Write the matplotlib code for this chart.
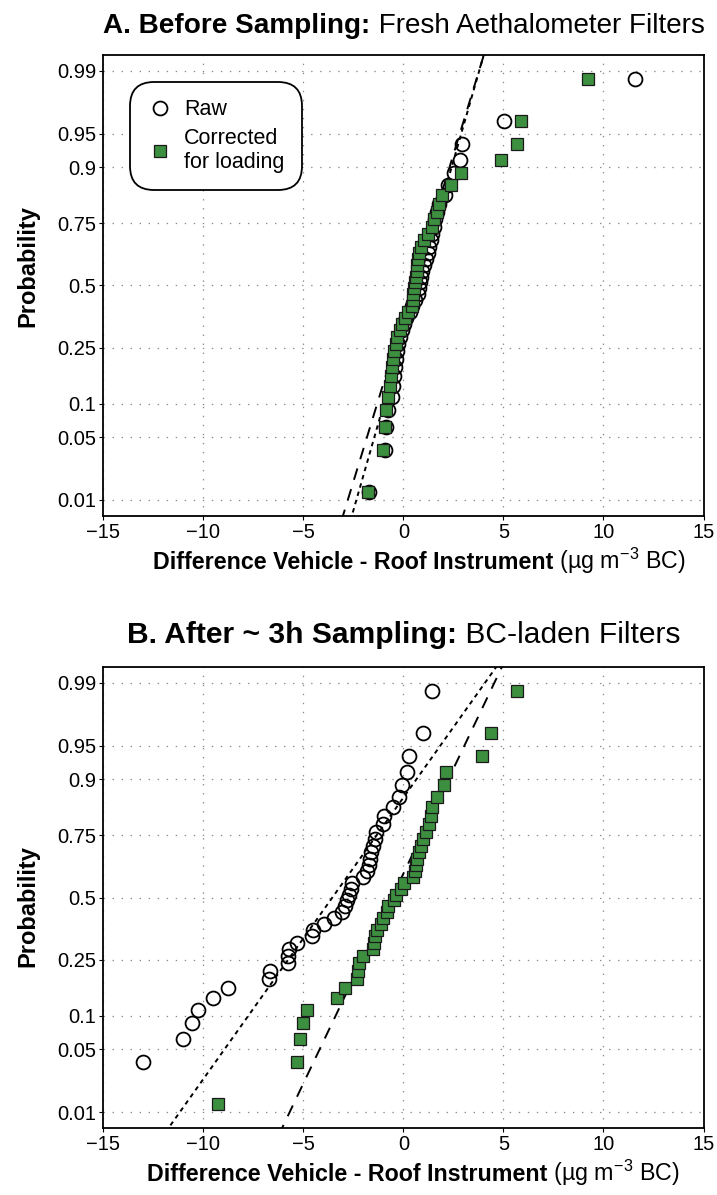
import matplotlib
matplotlib.use('Agg')
import matplotlib.pyplot as plt
from matplotlib.lines import Line2D
import numpy as np
from statistics import NormalDist

plt.rcParams['font.family'] = ['Liberation Sans', 'DejaVu Sans']
plt.rcParams['mathtext.fontset'] = 'custom'
plt.rcParams['mathtext.rm'] = 'Liberation Sans'
plt.rcParams['mathtext.bf'] = 'Liberation Sans:bold'
plt.rcParams['mathtext.it'] = 'Liberation Sans:italic'
plt.rcParams['lines.scale_dashes'] = False
plt.rcParams['axes.unicode_minus'] = True

# ---------------- data (difference vehicle - roof, ug m-3 BC), sorted ----------------
a_raw = [-1.72, -0.90, -0.86, -0.75, -0.58, -0.53, -0.48, -0.42, -0.36, -0.30,
         -0.25, -0.15, -0.05, 0.05, 0.15, 0.34, 0.45, 0.58, 0.72, 0.78,
         0.83, 0.88, 0.95, 1.05, 1.15, 1.22, 1.30, 1.38, 1.45, 1.52,
         1.60, 1.68, 1.78, 2.09, 2.25, 2.55, 2.83, 2.91, 5.03, 11.58]
a_corr = [-1.79, -1.04, -0.94, -0.85, -0.79, -0.67, -0.62, -0.55, -0.50, -0.45,
          -0.37, -0.30, -0.17, -0.07, 0.10, 0.25, 0.41, 0.46, 0.50, 0.53,
          0.58, 0.63, 0.66, 0.70, 0.75, 0.80, 0.86, 1.03, 1.25, 1.45,
          1.55, 1.66, 1.80, 1.91, 2.38, 2.86, 4.86, 5.66, 5.88, 9.24]
b_raw = [-16.0, -13.04, -11.04, -10.59, -10.25, -9.50, -8.75, -6.71, -6.67, -5.78,
         -5.76, -5.74, -5.30, -4.55, -4.50, -3.97, -3.47, -3.09, -2.92, -2.84,
         -2.70, -2.60, -2.56, -2.00, -1.84, -1.72, -1.67, -1.64, -1.52, -1.42,
         -1.36, -1.02, -0.98, -0.50, -0.20, -0.09, 0.20, 0.28, 0.96, 1.45]
b_corr = [-9.29, -5.30, -5.17, -5.00, -4.84, -3.34, -2.92, -2.30, -2.25, -2.20,
          -2.04, -1.54, -1.48, -1.42, -1.34, -1.12, -1.04, -0.82, -0.76, -0.45,
          -0.36, -0.10, 0.05, 0.50, 0.58, 0.63, 0.66, 0.76, 0.86, 0.96,
          1.15, 1.30, 1.36, 1.43, 1.70, 2.05, 2.11, 3.91, 4.36, 5.70]

# fitted normal lines (mean, std)
a_raw_fit = (0.72, 1.32)
a_corr_fit = (0.50, 1.41)
b_raw_fit = (-3.55, 3.28)
b_corr_fit = (-0.57, 2.20)

prob_ticks = [0.01, 0.05, 0.1, 0.25, 0.5, 0.75, 0.9, 0.95, 0.99]
prob_labels = ['0.01', '0.05', '0.1', '0.25', '0.5', '0.75', '0.9', '0.95', '0.99']
x_ticks = [-15, -10, -5, 0, 5, 10, 15]

title_a = ('A. Before Sampling:', ' Fresh Aethalometer Filters')
title_b = ('B. After ~ 3h Sampling:', ' BC-laden Filters')
xlabel = ('Difference Vehicle - Roof Instrument', r' (µg m$^{\mathregular{-3}}$ BC)')
legend_labels = ['Raw', 'Corrected\nfor loading']

# ---------------- probability scale ----------------
ND = NormalDist()
_ppf = np.vectorize(ND.inv_cdf, otypes=[float])
_cdf = np.vectorize(ND.cdf, otypes=[float])


def fwd(p):
    p = np.clip(np.asarray(p, dtype=float), 1e-9, 1 - 1e-9)
    return _ppf(p)


def inv(z):
    return _cdf(np.asarray(z, dtype=float))


def positions(n):
    return (np.arange(1, n + 1) - 0.5) / n


GREEN = '#3d8f40'
SHORT = (0, (3.2, 3.0))
LONG = (0, (8.5, 7.0))
MS_C, MS_S = 10.0, 9.2

fig = plt.figure(figsize=(7.17, 11.95), dpi=100)
W, H = 717.0, 1195.0
left = 103.3 / W
width = (703.5 - 103.3) / W
axA = fig.add_axes([left, 1 - 516.0 / H, width, (516.0 - 54.7) / H])
axB = fig.add_axes([left, 1 - 1128.3 / H, width, (1128.3 - 666.7) / H])


def setup(ax, raw, corr, raw_fit, corr_fit, ylab_y):
    ax.set_yscale('function', functions=(fwd, inv))
    ax.plot(np.sort(raw), positions(len(raw)), linestyle='none', marker='o', markersize=MS_C,
            markerfacecolor='none', markeredgecolor='black', markeredgewidth=1.3, zorder=3)
    zz = np.array([-3.0, 3.0])
    pp = inv(zz)
    ax.plot(raw_fit[0] + raw_fit[1] * zz, pp, color='black', linestyle=SHORT, linewidth=1.4, zorder=4)
    ax.plot(corr_fit[0] + corr_fit[1] * zz, pp, color='black', linestyle=LONG, linewidth=1.4, zorder=4)
    ax.plot(np.sort(corr), positions(len(corr)), linestyle='none', marker='s', markersize=MS_S,
            markerfacecolor=GREEN, markeredgecolor='#1a1a1a', markeredgewidth=0.9, zorder=5)
    ax.set_xlim(-15, 15)
    ax.set_ylim(inv(-2.5), inv(2.5))
    ax.set_xticks(x_ticks)
    ax.set_yticks(prob_ticks)
    ax.set_yticklabels(prob_labels)
    ax.yaxis.set_minor_locator(matplotlib.ticker.NullLocator())
    ax.tick_params(axis='both', which='major', labelsize=14.5, direction='out', length=3,
                   width=0.8, pad=2)
    ax.set_axisbelow(True)
    ax.grid(True, color='#8a8a8a', linestyle=(0, (1.0, 5.5)), linewidth=0.9)
    for s in ax.spines.values():
        s.set_linewidth(1.3)
        s.set_color('black')
    ax.set_ylabel('Probability', fontsize=17, fontweight='bold')
    ax.yaxis.set_label_coords((39 - 103.3) / 600.2, ylab_y)


setup(axA, a_raw, a_corr, a_raw_fit, a_corr_fit, (516 - 266) / 461.3)
setup(axB, b_raw, b_corr, b_raw_fit, b_corr_fit, (1128.3 - 906) / 461.6)

renderer = fig.canvas.get_renderer()


def two_part(parts, x_left, x_right, y_base, size0, shrink=1.0):
    """bold + regular text, sized to span x_left..x_right (pixels) times shrink, centred."""
    t1 = fig.text(0, 0, parts[0], fontsize=size0, fontweight='bold', va='baseline', ha='left')
    t2 = fig.text(0, 0, parts[1], fontsize=size0, va='baseline', ha='left')
    w = t1.get_window_extent(renderer).width + t2.get_window_extent(renderer).width
    target = (x_right - x_left) * shrink
    size = size0 * target / w
    t1.set_fontsize(size)
    t2.set_fontsize(size)
    w1 = t1.get_window_extent(renderer).width
    w2 = t2.get_window_extent(renderer).width
    x0 = (x_left + x_right) / 2 - (w1 + w2) / 2
    t1.set_position((x0 / W, 1 - y_base / H))
    t2.set_position(((x0 + w1) / W, 1 - y_base / H))


two_part(title_a, 103, 705, 33, 18)
two_part(title_b, 128, 680, 643, 18)
two_part(xlabel, 133, 706, 569, 16, shrink=0.93)
two_part(xlabel, 127, 700, 1181, 16, shrink=0.93)

handles = [Line2D([], [], linestyle='none', marker='o', markersize=MS_C, markerfacecolor='none',
                  markeredgecolor='black', markeredgewidth=1.3),
           Line2D([], [], linestyle='none', marker='s', markersize=MS_S, markerfacecolor=GREEN,
                  markeredgecolor='#1a1a1a', markeredgewidth=0.9)]
leg = axA.legend(handles, legend_labels, loc='upper left',
                 bbox_to_anchor=((130 - 103.3) / 600.2, (516 - 82) / 461.3), borderaxespad=0,
                 fontsize=15.5, frameon=True, fancybox=True, handlelength=1.2, handletextpad=0.52,
                 borderpad=0.8, labelspacing=0.35)
fr = leg.get_frame()
fr.set_boxstyle('round', pad=0, rounding_size=1.1)
fr.set_edgecolor('black')
fr.set_linewidth(1.3)
fr.set_alpha(1)

fig.savefig('out.png', dpi=100)
